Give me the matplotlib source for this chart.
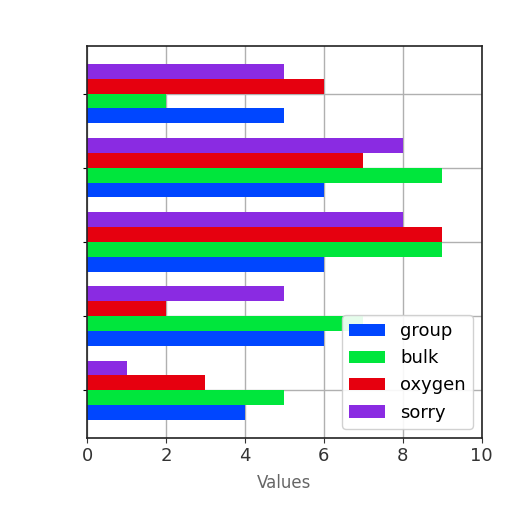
import numpy as np
import matplotlib
matplotlib.use("Agg")
import matplotlib.pyplot as plt

# bar values per series, categories from bottom to top
categories = [0, 1, 2, 3, 4]
group = [4, 6, 6, 6, 5]
bulk = [5, 7, 9, 9, 2]
oxygen = [3, 2, 9, 7, 6]
sorry = [1, 5, 8, 8, 5]

series_names = ["group", "bulk", "oxygen", "sorry"]
my_colors = ("#0046ff", "#00e63c", "#e6000f", "#8a2be2")

fig = plt.figure(figsize=(5.12, 5.12), dpi=100)
ax = fig.add_axes([0.17, 0.145, 0.771, 0.765])

y = np.arange(len(categories))
bar_h = 0.2
for i, vals in enumerate([group, bulk, oxygen, sorry]):
    ax.barh(y + (i - 1.5) * bar_h, vals, bar_h, color=my_colors[i],
            label=series_names[i], zorder=2)

ax.set_xlim(0, 10)
ax.set_yticks(y)
ax.set_yticklabels([])
ax.set_xticks(range(0, 11, 2))
ax.tick_params(axis="x", labelsize=13, colors="#333333")
ax.tick_params(axis="y", length=3)
ax.grid(True, color="#b0b0b0", linewidth=1, zorder=0)
ax.set_axisbelow(True)
for s in ax.spines.values():
    s.set_color("#222222")
    s.set_linewidth(1.2)
ax.set_xlabel("Values", fontsize=12, color="#666666", labelpad=6)
ax.legend(loc="lower right", fontsize=13, framealpha=0.9)

fig.savefig("out.png", dpi=100)
